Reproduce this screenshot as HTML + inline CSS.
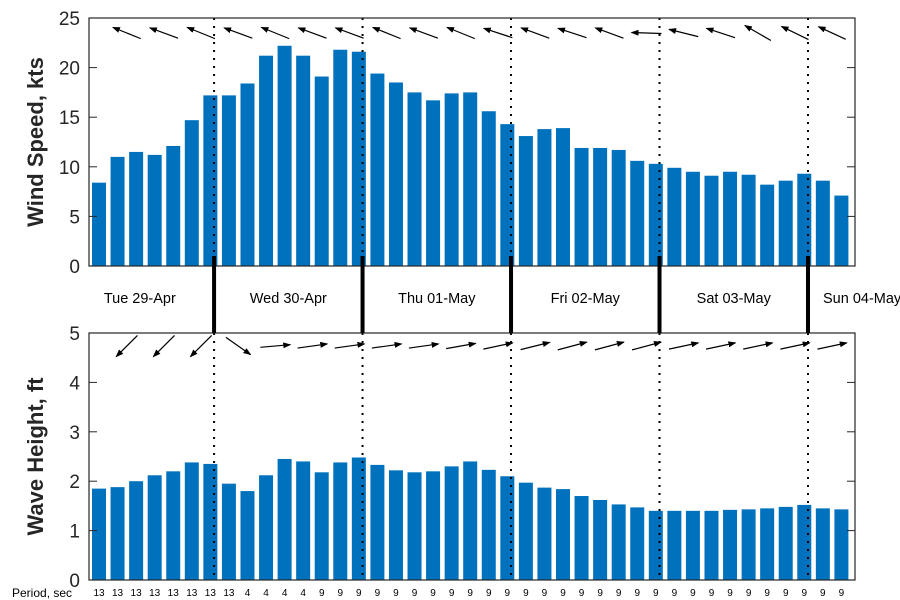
<!DOCTYPE html>
<html><head><meta charset="utf-8"><style>
html,body{margin:0;padding:0;background:#fff;}
svg{display:block;font-family:"Liberation Sans","DejaVu Sans",sans-serif;}
</style></head><body>
<svg id="chart" width="900" height="600" viewBox="0 0 900 600" xmlns="http://www.w3.org/2000/svg">
<defs><marker id="ah" markerWidth="8" markerHeight="6" refX="7" refY="3" orient="auto" markerUnits="userSpaceOnUse"><path d="M0,0 L8,3 L0,6 Z" fill="#000"/></marker></defs>
</svg>
<script>
const windSpeed=[8.4,11,11.5,11.2,12.1,14.7,17.2,17.2,18.4,21.2,22.2,21.2,19.1,21.8,21.6,19.4,18.5,17.5,16.7,17.4,17.5,15.6,14.3,13.1,13.8,13.9,11.9,11.9,11.7,10.6,10.3,9.9,9.5,9.1,9.5,9.2,8.2,8.6,9.3,8.6,7.1];
const waveHeight=[1.85,1.88,2.0,2.12,2.2,2.38,2.35,1.95,1.8,2.12,2.45,2.4,2.18,2.38,2.48,2.33,2.22,2.18,2.2,2.3,2.4,2.23,2.1,1.97,1.87,1.84,1.7,1.62,1.53,1.47,1.4,1.4,1.4,1.4,1.42,1.43,1.45,1.48,1.52,1.45,1.43];
const periods=[13,13,13,13,13,13,13,13,4,4,4,4,9,9,9,9,9,9,9,9,9,9,9,9,9,9,9,9,9,9,9,9,9,9,9,9,9,9,9,9,9];
const windDirDeg=[158,160,158,160,158,160,160,158,160,158,162,160,162,160,178,166,162,150,154,155];
const waveDirDeg=[225,225,225,-35,5,8,8,8,8,10,12,14,15,15,15,12,12,12,12,12];
const dayLabels=["Tue 29-Apr","Wed 30-Apr","Thu 01-May","Fri 02-May","Sat 03-May","Sun 04-May"];
const dividerIdx=[6.2,14.2,22.2,30.2,38.2];
const windTicks=[0,5,10,15,20,25];
const waveTicks=[0,1,2,3,4,5];

const svg=document.getElementById('chart');
const NS='http://www.w3.org/2000/svg';
const AX_L=89,AX_R=855;
const x=i=>99+i*18.56;
const top1={t:18,b:266,max:25},top2={t:333,b:580,max:5};
const y1=v=>top1.b-(v/top1.max)*(top1.b-top1.t);
const y2=v=>top2.b-(v/top2.max)*(top2.b-top2.t);
function mk(tag,attrs,parent){const e=document.createElementNS(NS,tag);for(const k in attrs)e.setAttribute(k,attrs[k]);(parent||svg).appendChild(e);return e;}

function panel(P,yf,vals,ticks,label,dirs,arrowY,name){
  const g=mk('g',{});
  
  
  vals.forEach((v,i)=>{
    const r=mk('rect',{x:x(i)-7,y:yf(v),width:14,height:P.b-yf(v),fill:'#0072bd'},g);
    
    
  });
  dividerIdx.forEach(d=>{
    const l=mk('line',{x1:x(d),x2:x(d),y1:P.t,y2:P.b,stroke:'#000','stroke-width':2,'stroke-dasharray':'2,6'},g);
    
    
  });
  ticks.forEach(t=>{
    const yy=yf(t);
    mk('line',{x1:AX_L,x2:AX_L+8,y1:yy,y2:yy,stroke:'#262626'},g);
    mk('line',{x1:AX_R-8,x2:AX_R,y1:yy,y2:yy,stroke:'#262626'},g);
    const tx=mk('text',{x:80,y:yy+7,'text-anchor':'end','font-size':19,fill:'#262626'},g);
    tx.textContent=t;
    
    
  });
  const box=mk('rect',{x:AX_L,y:P.t,width:AX_R-AX_L,height:P.b-P.t,fill:'none',stroke:'#262626','stroke-width':1.2},g);
  
  
  const cy=(P.t+P.b)/2;
  const yl=mk('text',{x:0,y:0,transform:`translate(43,${cy}) rotate(-90)`,'text-anchor':'middle','font-size':22,'font-weight':'bold',fill:'#262626'},g);
  yl.textContent=label;
  
  
  dirs.forEach((d,k)=>{
    const cx=x(1.5+2*k),L=15,a=d*Math.PI/180;
    const dx=Math.cos(a)*L,dy=-Math.sin(a)*L;
    const ar=mk('line',{x1:cx-dx,y1:arrowY-dy,x2:cx+dx,y2:arrowY+dy,stroke:'#000','stroke-width':1.2,'marker-end':'url(#ah)'},g);
    
    
  });
}
panel(top1,y1,windSpeed,windTicks,'Wind Speed, kts',windDirDeg,33,'wind-speed-panel');
panel(top2,y2,waveHeight,waveTicks,'Wave Height, ft',waveDirDeg,346,'wave-height-panel');

dividerIdx.forEach(d=>{
  const l=mk('line',{x1:x(d),x2:x(d),y1:256,y2:333,stroke:'#000','stroke-width':4});
  
  
});
dayLabels.forEach((s,k)=>{
  const cx=k<5?x(dividerIdx[0]-4+8*k):823;
  const t=mk('text',{x:cx,y:303,'text-anchor':k<5?'middle':'start','font-size':14.5,fill:'#000'});
  t.textContent=s;
  
  
});
periods.forEach((p,i)=>{
  const t=mk('text',{x:x(i),y:596,'text-anchor':'middle','font-size':10,fill:'#000'});
  t.textContent=p;
  
  
});
const pt=mk('text',{x:12,y:597,'font-size':12,fill:'#000'});
pt.textContent='Period, sec';


</script>
</body></html>
